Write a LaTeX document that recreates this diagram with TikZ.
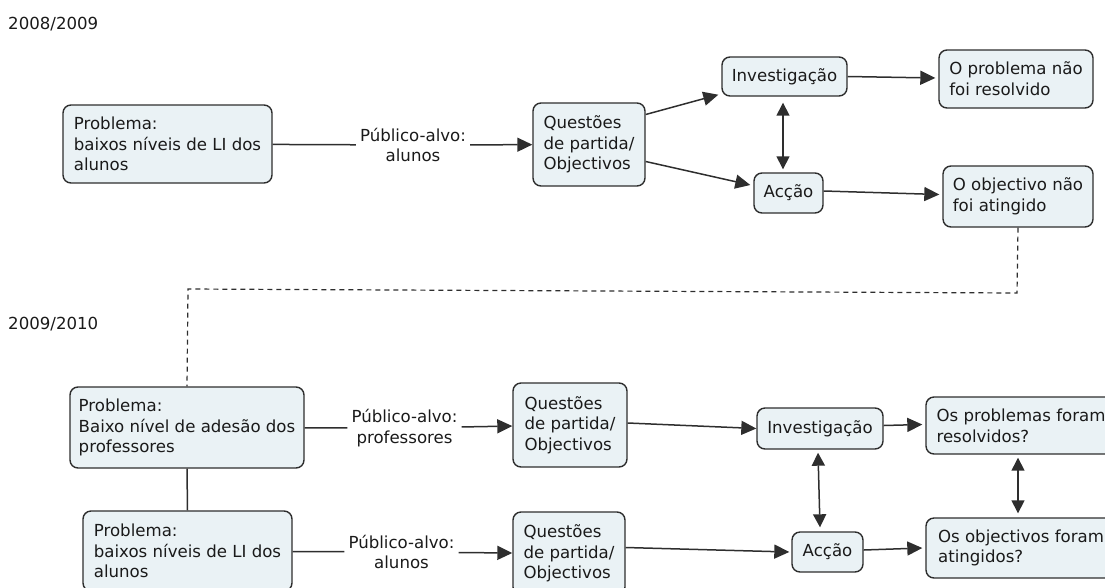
\documentclass[tikz,border=0pt]{standalone}
\usepackage{fontspec}
\setmainfont{DejaVu Sans}
\usetikzlibrary{arrows.meta,calc}
\definecolor{boxfill}{HTML}{EAF2F5}
\definecolor{edge}{HTML}{2E2E2E}
\definecolor{ink}{HTML}{1A1A1A}

\begin{document}
\begin{tikzpicture}[x=1pt,y=-1pt,
  txt/.style={text=ink, font=\fontsize{16.6}{20.7}\selectfont},
  box/.style={txt, draw=edge, fill=boxfill, rounded corners=8pt, line width=1.4pt,
              inner sep=0pt, align=left},
  sized/.style 2 args={minimum width=#1pt, minimum height=#2pt},
  lbl/.style={txt, align=center, inner sep=4pt},
  conn/.style={draw=edge, line width=1.5pt},
  arr/.style={conn, -{Triangle[length=15pt,width=14pt]}},
  both/.style={conn, {Triangle[length=13pt,width=13pt]}-{Triangle[length=13pt,width=13pt]}},
  link/.style={draw=edge, line width=1.2pt, dash pattern=on 5pt off 4pt}
]
\useasboundingbox (0,0) rectangle (1105,587);
\clip (0,0) rectangle (1105,587);

% ---------- 2008/2009 ----------
\node[txt, anchor=base west, inner sep=0pt] (yr1) at (8,29) {2008/2009};

\node[box, sized={209}{78}] (p1) at (167.5,144) {Problema:\\baixos níveis de LI dos\\alunos};
\node[lbl] (l1) at (413,145) {Público-alvo:\\alunos};
\node[box, sized={112}{83}] (q1) at (589,144.5) {Questões\\de partida/\\Objectivos};
\node[box, sized={125}{39}] (inv1) at (784.5,76.5) {Investigação};
\node[box, sized={69}{40}] (ac1) at (788.5,193) {Acção};
\node[box, sized={154}{58}] (r1) at (1016,79) {O problema não\\foi resolvido};
\node[box, sized={150}{61}] (o1) at (1018,196.5) {O objectivo não\\foi atingido};

\draw[conn] (p1) -- (l1);
\draw[arr] (l1) -- (q1);
\draw[arr] ([yshift=30pt]q1.east) -- ([xshift=-3pt,yshift=2pt]inv1.south west);
\draw[arr] ([yshift=-17pt]q1.east) -- ([xshift=-3pt,yshift=8pt]ac1.west);
\draw[both] ([xshift=-1.5pt,yshift=-6pt]inv1.south) -- ([xshift=-5.5pt,yshift=3pt]ac1.north);
\draw[arr] (inv1.east) -- ([xshift=-3pt,yshift=1pt]r1.west);
\draw[arr] ([yshift=2pt]ac1.east) -- ([xshift=-3pt,yshift=2pt]o1.west);

% ---------- link between the two years ----------
\coordinate (dr) at (1017,293);
\coordinate (dl) at (188,289);

% ---------- 2009/2010 ----------
\node[txt, anchor=base west, inner sep=0pt] (yr2) at (8,329) {2009/2010};

\node[box, sized={234}{81}] (p2) at (187,427.5) {Problema:\\Baixo nível de adesão dos\\professores};
\node[box, sized={209}{80}] (p3) at (187.5,551) {Problema:\\baixos níveis de LI dos\\alunos};
\node[lbl] (l2) at (404.5,428) {Público-alvo:\\professores};
\node[lbl] (l3) at (401.5,552) {Público-alvo:\\alunos};
\node[box, sized={114}{84}] (q2) at (570,425) {Questões\\de partida/\\Objectivos};
\node[box, sized={112}{83}] (q3) at (569,553.5) {Questões\\de partida/\\Objectivos};
\node[box, sized={126}{41}] (inv2) at (820,428.5) {Investigação};
\node[box, sized={71}{40}] (ac2) at (827.5,552) {Acção};
\node[box, sized={190}{57}] (r2) at (1021,425.5) {Os problemas foram\\resolvidos?};
\node[box, sized={190}{60}] (o2) at (1021,548) {Os objectivos foram\\atingidos?};

\draw[link] (o1.south) -- (dr) -- (dl) -- (p2.north);

\draw[conn] (p2) -- (l2);
\draw[arr] (l2) -- (q2);
\draw[conn] (p2.south) -- (p3.north);
\draw[conn] (p3) -- (l3);
\draw[arr] (l3) -- (q3);
\draw[arr] ([yshift=2pt]q2.east) -- (inv2.west);
\draw[arr] ([yshift=6pt]q3.east) -- ([xshift=-2pt]ac2.west);
\draw[both] ([xshift=-2pt,yshift=-3pt]inv2.south) -- ([xshift=-7.5pt,yshift=4pt]ac2.north);
\draw[arr] ([yshift=3pt]inv2.east) -- ([xshift=-3pt,yshift=1pt]r2.west);
\draw[arr] ([yshift=2pt]ac2.east) -- ([xshift=-3pt]o2.west);
\draw[both] ([xshift=-3pt,yshift=-3pt]r2.south) -- ([xshift=-3pt,yshift=4pt]o2.north);
\end{tikzpicture}
\end{document}
